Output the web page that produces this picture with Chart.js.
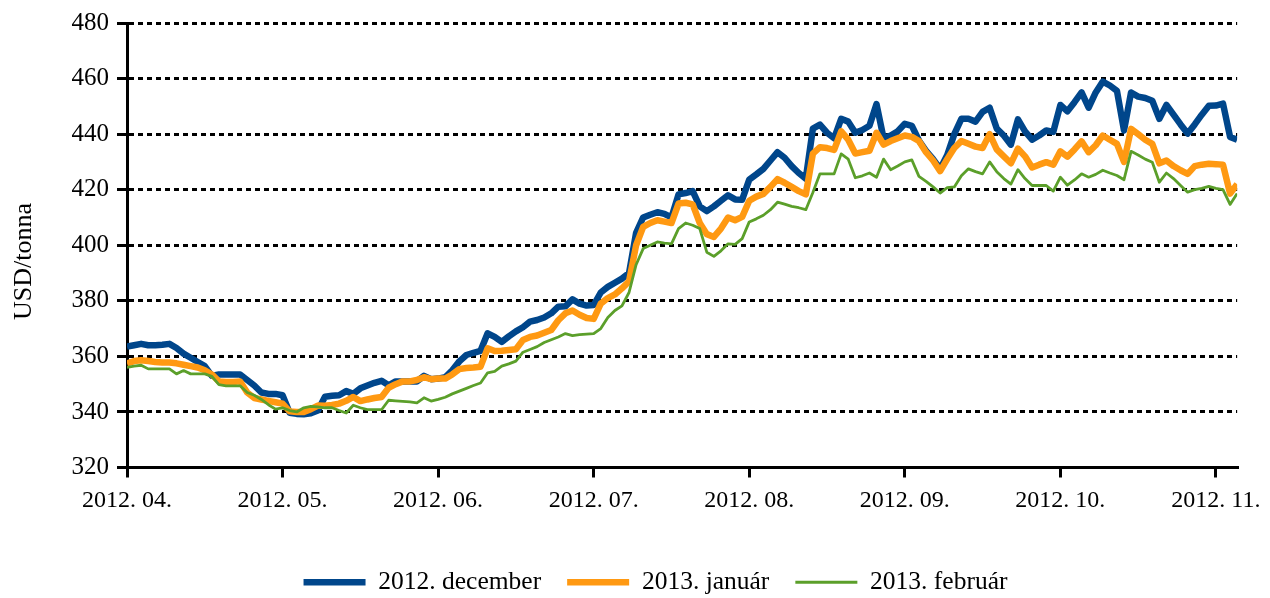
<!DOCTYPE html>
<html><head><meta charset="utf-8">
<script src="https://cdn.jsdelivr.net/npm/chart.js@4.4.0/dist/chart.umd.min.js"></script>
<style>html,body{margin:0;padding:0;background:#fff;}canvas{display:block;}</style>
</head><body>
<canvas id="c" width="1270" height="598"></canvas>
<script>
// Month tick labels (one label every tickStep trading days)
const monthLabels = ['2012. 04.', '2012. 05.', '2012. 06.', '2012. 07.', '2012. 08.', '2012. 09.', '2012. 10.', '2012. 11.'];
const tickStep = 22;
const seriesNames = ['2012. december', '2013. január', '2013. február'];
const yTitle = 'USD/tonna';

// USD/tonna, daily quotations
const dec2012 = [
  363.5, 364, 364.5, 364, 364, 364.2, 364.5, 363, 361, 359.5, 358, 356.5, 353, 353.5, 353.5, 353.5, 353.5, 351.5, 349.5, 347, 346.5, 346.5,
  346, 339.7, 339.3, 339.2, 339.5, 340.5, 345.5, 345.8, 346, 347.5, 346.5, 348.5, 349.5, 350.5, 351.2, 349.6, 351, 351, 351, 351, 353, 351.8,
  352, 352.5, 355, 358.2, 360.5, 361.3, 362, 368.3, 367, 365.2, 367.2, 369, 370.5, 372.5, 373.1, 374, 375.5, 377.9, 378, 380.5, 379, 378.3,
  378.5, 383, 385, 386.5, 388, 390, 404.5, 410, 411, 411.9, 411.3, 410, 418.3, 418.8, 419.5, 414, 412.3, 414, 416, 418, 416.5, 416.4,
  423.6, 425.5, 427.5, 430.5, 433.5, 431.5, 428.5, 426, 424, 442, 443.4, 440.5, 438.5, 445.5, 444.5, 440.5, 441.5, 443, 450.8, 438.5, 439.5, 441,
  443.7, 443, 437.7, 434, 431, 427.5, 432.5, 440, 445.5, 445.5, 444.5, 448, 449.5, 442, 439.5, 436.2, 445.3, 441, 438, 439.5, 441.3, 440.8,
  450.5, 448.2, 451.5, 455, 449.5, 455, 458.9, 457.5, 455.6, 441.3, 455, 453.5, 453, 452, 445.5, 450.5, 447, 443.5, 440.2, 443.5, 447, 450.2,
  450.3, 451, 439, 438
];
const jan2013 = [
  357.5, 358.3, 358.6, 358.3, 358, 357.8, 357.8, 357.5, 357, 356.5, 356, 355, 353.5, 351, 350.8, 350.8, 351, 347, 345, 344.5, 344, 343.5,
  343, 340.2, 340, 340, 341, 342.3, 342.2, 342.5, 343, 344, 345.4, 343.9, 344.5, 345, 345.4, 348.7, 350, 351, 351, 351.5, 352.5, 351.8,
  352, 352, 353.5, 355.4, 355.8, 356, 356.3, 362.9, 361.9, 362, 362.3, 362.6, 365.9, 367, 367.5, 368.5, 369.5, 373, 375.5, 376.5, 375, 373.8,
  373.5, 379, 381, 382.3, 384.5, 387, 400, 406.6, 408, 409, 408.5, 408, 415, 415.3, 414.7, 408, 404, 403, 406, 410, 409, 410.2,
  416, 417.5, 418.5, 421, 423.8, 422.5, 421, 419.5, 418.3, 433, 435.3, 435, 434.3, 441, 438, 433, 433.5, 434, 440.5, 436.2, 437.5, 438.5,
  439.5, 439, 437.5, 433.5, 430.5, 426.7, 431, 435, 437.5, 436.5, 435.5, 435, 440, 434.5, 432, 429.5, 434.8, 432, 428, 429, 429.9, 429,
  433.8, 431.9, 434.5, 437.4, 433.5, 436, 439.5, 438, 436.5, 430, 441.9, 440, 438, 436.5, 429.5, 430.5, 428.5, 427, 425.7, 428.5, 429, 429.3,
  429.2, 429, 418.6, 422
];
const feb2013 = [
  356, 356.5, 356.8, 355.5, 355.5, 355.5, 355.5, 353.7, 354.9, 353.7, 353.7, 353.7, 352.8, 349.8, 349.4, 349.4, 349.4, 347, 346, 344.5, 342.6, 341,
  341.5, 340.5, 340, 341.5, 342, 341.8, 341.5, 341.5, 340.5, 339.6, 342.4, 341.5, 340.8, 340.8, 340.8, 344.2, 344, 343.8, 343.6, 343.3, 345.1, 343.9,
  344.5, 345.3, 346.5, 347.5, 348.5, 349.5, 350.4, 354.1, 354.6, 356.5, 357.3, 358.3, 361.5, 362.5, 363.5, 365, 366, 367, 368.2, 367.5, 367.8, 368,
  368.2, 370, 374, 376.5, 378.2, 383, 393, 398.8, 400, 401.2, 400.8, 400.5, 406, 408, 407.2, 406, 397.5, 396, 398, 400.5, 400.3, 402.4,
  408.4, 409.5, 410.8, 412.8, 415.5, 414.8, 414, 413.5, 412.8, 419, 425.7, 425.7, 425.7, 432.9, 431, 424.3, 425, 426, 424.5, 431, 427.2, 428.5,
  430, 430.7, 424.8, 423, 421, 418.8, 420.7, 421, 425, 427.5, 426.5, 425.7, 430, 426.5, 424, 422, 427.2, 424, 421.5, 421.5, 421.5, 419.5,
  424.5, 421.6, 423.5, 425.7, 424.5, 425.5, 427, 426, 425.1, 423.6, 433.8, 432.5, 431, 429.9, 422.7, 426, 424, 421.5, 419.1, 420, 420.5, 421.2,
  420.5, 420, 414.7, 418.6
];
const dayIndex = dec2012.map((_, i) => i);

const FONT = "'Liberation Serif', 'Times New Roman', serif";
const legendShift = {
  id: 'legendShift',
  afterLayout(chart) { const l = chart.legend; if (l) { l.left += 34; l.right += 34; } }
};

new Chart(document.getElementById('c'), {
  type: 'line',
  data: {
    labels: dayIndex,
    datasets: [
      { label: seriesNames[0], data: dec2012, borderColor: '#00468B', backgroundColor: '#00468B', borderWidth: 6.5, order: 3 },
      { label: seriesNames[1], data: jan2013, borderColor: '#FF9912', backgroundColor: '#FF9912', borderWidth: 6.5, order: 2 },
      { label: seriesNames[2], data: feb2013, borderColor: '#5B9F2A', backgroundColor: '#5B9F2A', borderWidth: 2.8, order: 1 }
    ]
  },
  options: {
    responsive: false,
    animation: false,
    devicePixelRatio: 1,
    layout: { padding: { left: 0, right: 27, top: 22, bottom: -7 } },
    elements: {
      point: { radius: 0, hoverRadius: 0 },
      line: { tension: 0, borderJoinStyle: 'round', borderCapStyle: 'butt', fill: false }
    },
    plugins: {
      tooltip: { enabled: false },
      legend: {
        position: 'bottom',
        align: 'center',
        labels: {
          usePointStyle: true,
          pointStyle: 'line',
          pointStyleWidth: 62,
          font: { family: FONT, size: 25.5 },
          color: '#000',
          padding: 26,
          sort: (a, b) => a.datasetIndex - b.datasetIndex
        }
      }
    },
    scales: {
      x: {
        type: 'linear',
        min: 0,
        max: dayIndex.length - 1,
        afterFit: s => { s.height = 76; },
        ticks: {
          stepSize: tickStep,
          includeBounds: false,
          autoSkip: false,
          maxRotation: 0,
          font: { family: FONT, size: 24 },
          color: '#000',
          padding: 9,
          callback: v => monthLabels[v / tickStep] ?? ''
        },
        grid: { drawOnChartArea: false, drawTicks: true, tickLength: 10, tickWidth: 3, tickColor: '#000', color: '#000', lineWidth: 3 },
        border: { display: true, color: '#000', width: 3 }
      },
      y: {
        min: 320,
        max: 480,
        afterFit: s => { s.width = 127; },
        ticks: { stepSize: 20, font: { family: FONT, size: 25 }, color: '#000', padding: 8 },
        grid: { color: '#000', lineWidth: 3, tickLength: 10, tickWidth: 3, tickColor: '#000', tickBorderDash: [] },
        border: { display: true, color: '#000', width: 3, dash: [5, 4] },
        title: { display: true, text: yTitle + '\u00A0'.repeat(5), font: { family: FONT, size: 26 }, color: '#000', padding: { top: 9, bottom: 0 } }
      }
    }
  },
  plugins: [legendShift]
});
</script>
</body></html>
